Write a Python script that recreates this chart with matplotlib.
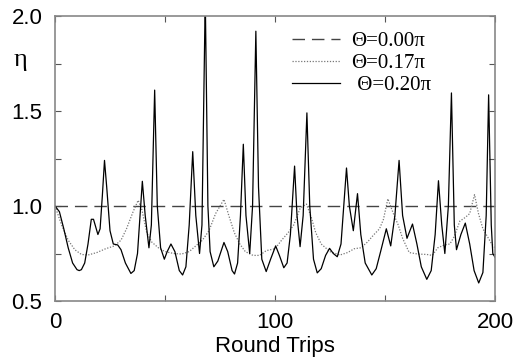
import matplotlib
matplotlib.use("Agg")
import matplotlib.pyplot as plt
from matplotlib.ticker import FixedLocator

# Theta = 0.00 pi (constant)
x_a = [0, 200]
y_a = [1.0, 1.0]

# Theta = 0.17 pi (dotted)
x_b = [0, 3, 6, 9, 12, 15, 19, 23, 27, 30, 32.5, 35.5, 37.8, 39.5, 41.7, 44, 47, 50, 54,
       57.5, 61, 64, 67, 70, 73, 76.8, 79, 81.5, 84, 86.5, 90, 93, 96, 100, 103, 106,
       108.5, 111.5, 114.3, 116.5, 118.5, 121, 125, 129.5, 133, 136, 139, 142, 145,
       147.5, 149.3, 151.3, 153.8, 156, 158, 161, 165, 169, 171.5, 174, 177, 179.5,
       181.5, 184, 186.5, 188.5, 190.7, 192.5, 194.5, 196.5, 198.5, 200]
y_b = [1.00, 0.90, 0.82, 0.77, 0.745, 0.742, 0.755, 0.775, 0.79, 0.82, 0.88, 0.97, 1.03,
       0.98, 0.86, 0.81, 0.78, 0.76, 0.75, 0.747, 0.76, 0.79, 0.82, 0.87, 0.96, 1.035,
       0.95, 0.86, 0.80, 0.76, 0.74, 0.74, 0.765, 0.775, 0.82, 0.86, 0.90, 0.99, 1.01,
       0.94, 0.86, 0.80, 0.76, 0.742, 0.755, 0.775, 0.78, 0.81, 0.85, 0.88, 0.93, 1.038,
       0.96, 0.90, 0.83, 0.755, 0.747, 0.745, 0.74, 0.78, 0.795, 0.80, 0.84, 0.92, 0.94,
       0.96, 1.06, 0.96, 0.88, 0.84, 0.80, 0.78]

# Theta = 0.20 pi (solid)
x_c = [0, 2, 4, 6, 8, 10, 11, 12, 13.5, 15, 16.5, 17.5, 19.5, 20.5, 21.5, 22.5, 23.5, 25,
       26.5, 28.5, 30, 32, 34.5, 36, 37.5, 39.7, 41, 42.7, 43.8, 45.3, 46.5, 48, 49.7, 51,
       52.7, 54.5, 56.5, 58, 59.5, 61, 62.6, 64, 65.7, 66.8, 68.3, 69.5, 70.5, 72.2, 74,
       76.8, 78.5, 80.5, 81.6, 83, 84.3, 85.6, 86.8, 88.5, 89.8, 91.3, 92.5, 94, 96, 98,
       100.3, 102, 104, 105.5, 107, 108.9, 110, 111.4, 112.8, 114.5, 115.8, 117.5, 119.2,
       121, 123, 124.8, 126.5, 128.3, 130, 132.5, 133.8, 135.6, 137.5, 139, 141, 144, 146,
       148, 150.6, 152.6, 154.5, 156.4, 158, 160, 162.5, 164.5, 166.5, 169, 171, 172.8,
       174.3, 175.8, 177.2, 178.8, 180.2, 181.5, 182.5, 184.5, 186.5, 188.5, 190.5, 192.6,
       194.5, 196, 197.1, 198.3, 199, 200]
y_c = [1.00, 0.97, 0.88, 0.78, 0.70, 0.665, 0.66, 0.665, 0.70, 0.80, 0.93, 0.93, 0.85,
       0.88, 1.05, 1.24, 1.10, 0.87, 0.80, 0.795, 0.77, 0.70, 0.645, 0.66, 0.75, 1.13,
       0.95, 0.78, 0.90, 1.61, 1.00, 0.78, 0.72, 0.76, 0.80, 0.76, 0.66, 0.637, 0.68, 0.90,
       1.286, 0.95, 0.75, 0.90, 2.10, 1.00, 0.76, 0.68, 0.71, 0.808, 0.76, 0.66, 0.642,
       0.70, 0.95, 1.325, 0.95, 0.75, 1.00, 1.92, 1.10, 0.72, 0.655, 0.72, 0.79, 0.74,
       0.675, 0.70, 0.85, 1.21, 0.95, 0.786, 0.95, 1.49, 1.00, 0.72, 0.648, 0.67, 0.74,
       0.777, 0.75, 0.733, 0.80, 1.20, 1.00, 0.87, 1.065, 0.85, 0.70, 0.637, 0.67, 0.76,
       0.88, 0.79, 0.95, 1.24, 0.95, 0.83, 0.905, 0.80, 0.68, 0.614, 0.66, 0.85, 1.133,
       0.90, 0.75, 1.00, 1.595, 0.90, 0.77, 0.85, 0.91, 0.80, 0.66, 0.595, 0.65, 0.95,
       1.585, 0.90, 0.75, 0.73]

labels = ["\u0398=0.00\u03c0", "\u0398=0.17\u03c0", " \u0398=0.20\u03c0"]
x_ticklabels = ["0", "100", "200"]
y_ticklabels = ["0.5", "1.0", "1.5", "2.0"]

plt.rcParams['font.family'] = ['Liberation Sans', 'DejaVu Sans']

fig = plt.figure(figsize=(5.13, 3.60), dpi=100)
ax = fig.add_axes([55/513, 59/360, 440/513, 285/360])

ax.plot(x_a, y_a, color='#444444', lw=1.0, dashes=(9, 5), label=labels[0])
ax.plot(x_b, y_b, color='#777777', lw=0.9, ls=(0, (1, 1.3)), label=labels[1])
ax.plot(x_c, y_c, color='black', lw=0.9, label=labels[2])

ax.set_xlim(0, 200)
ax.set_ylim(0.5, 2.0)
ax.xaxis.set_major_locator(FixedLocator([0, 100, 200]))
ax.xaxis.set_minor_locator(FixedLocator([50, 150]))
ax.yaxis.set_major_locator(FixedLocator([0.5, 1.0, 1.5, 2.0]))
ax.yaxis.set_minor_locator(FixedLocator([0.75, 1.25, 1.75]))
ax.set_xticklabels(x_ticklabels)
ax.set_yticklabels(y_ticklabels)
ax.tick_params(which='both', direction='in', top=True, right=True, length=4,
               width=0.8, color='#555555', labelsize=16)
ax.tick_params(axis='x', pad=8)
ax.tick_params(axis='y', pad=9)
for s in ax.spines.values():
    s.set_color('#888888')
    s.set_linewidth(1.2)

ax.set_xlabel("Round Trips", fontsize=16, labelpad=2)
fig.text(20/513, 1 - 60/360, "\u03b7", fontsize=19, ha='center', va='center',
         family=['Liberation Serif', 'DejaVu Serif'])

leg = ax.legend(loc='upper left', bbox_to_anchor=(0.539, 0.945), frameon=False,
                borderpad=0, borderaxespad=0,
                handlelength=2.3, handletextpad=0.55, labelspacing=0.12,
                prop={'family': ['Liberation Serif', 'DejaVu Serif'], 'size': 15})

fig.savefig("out.png", dpi=100)
